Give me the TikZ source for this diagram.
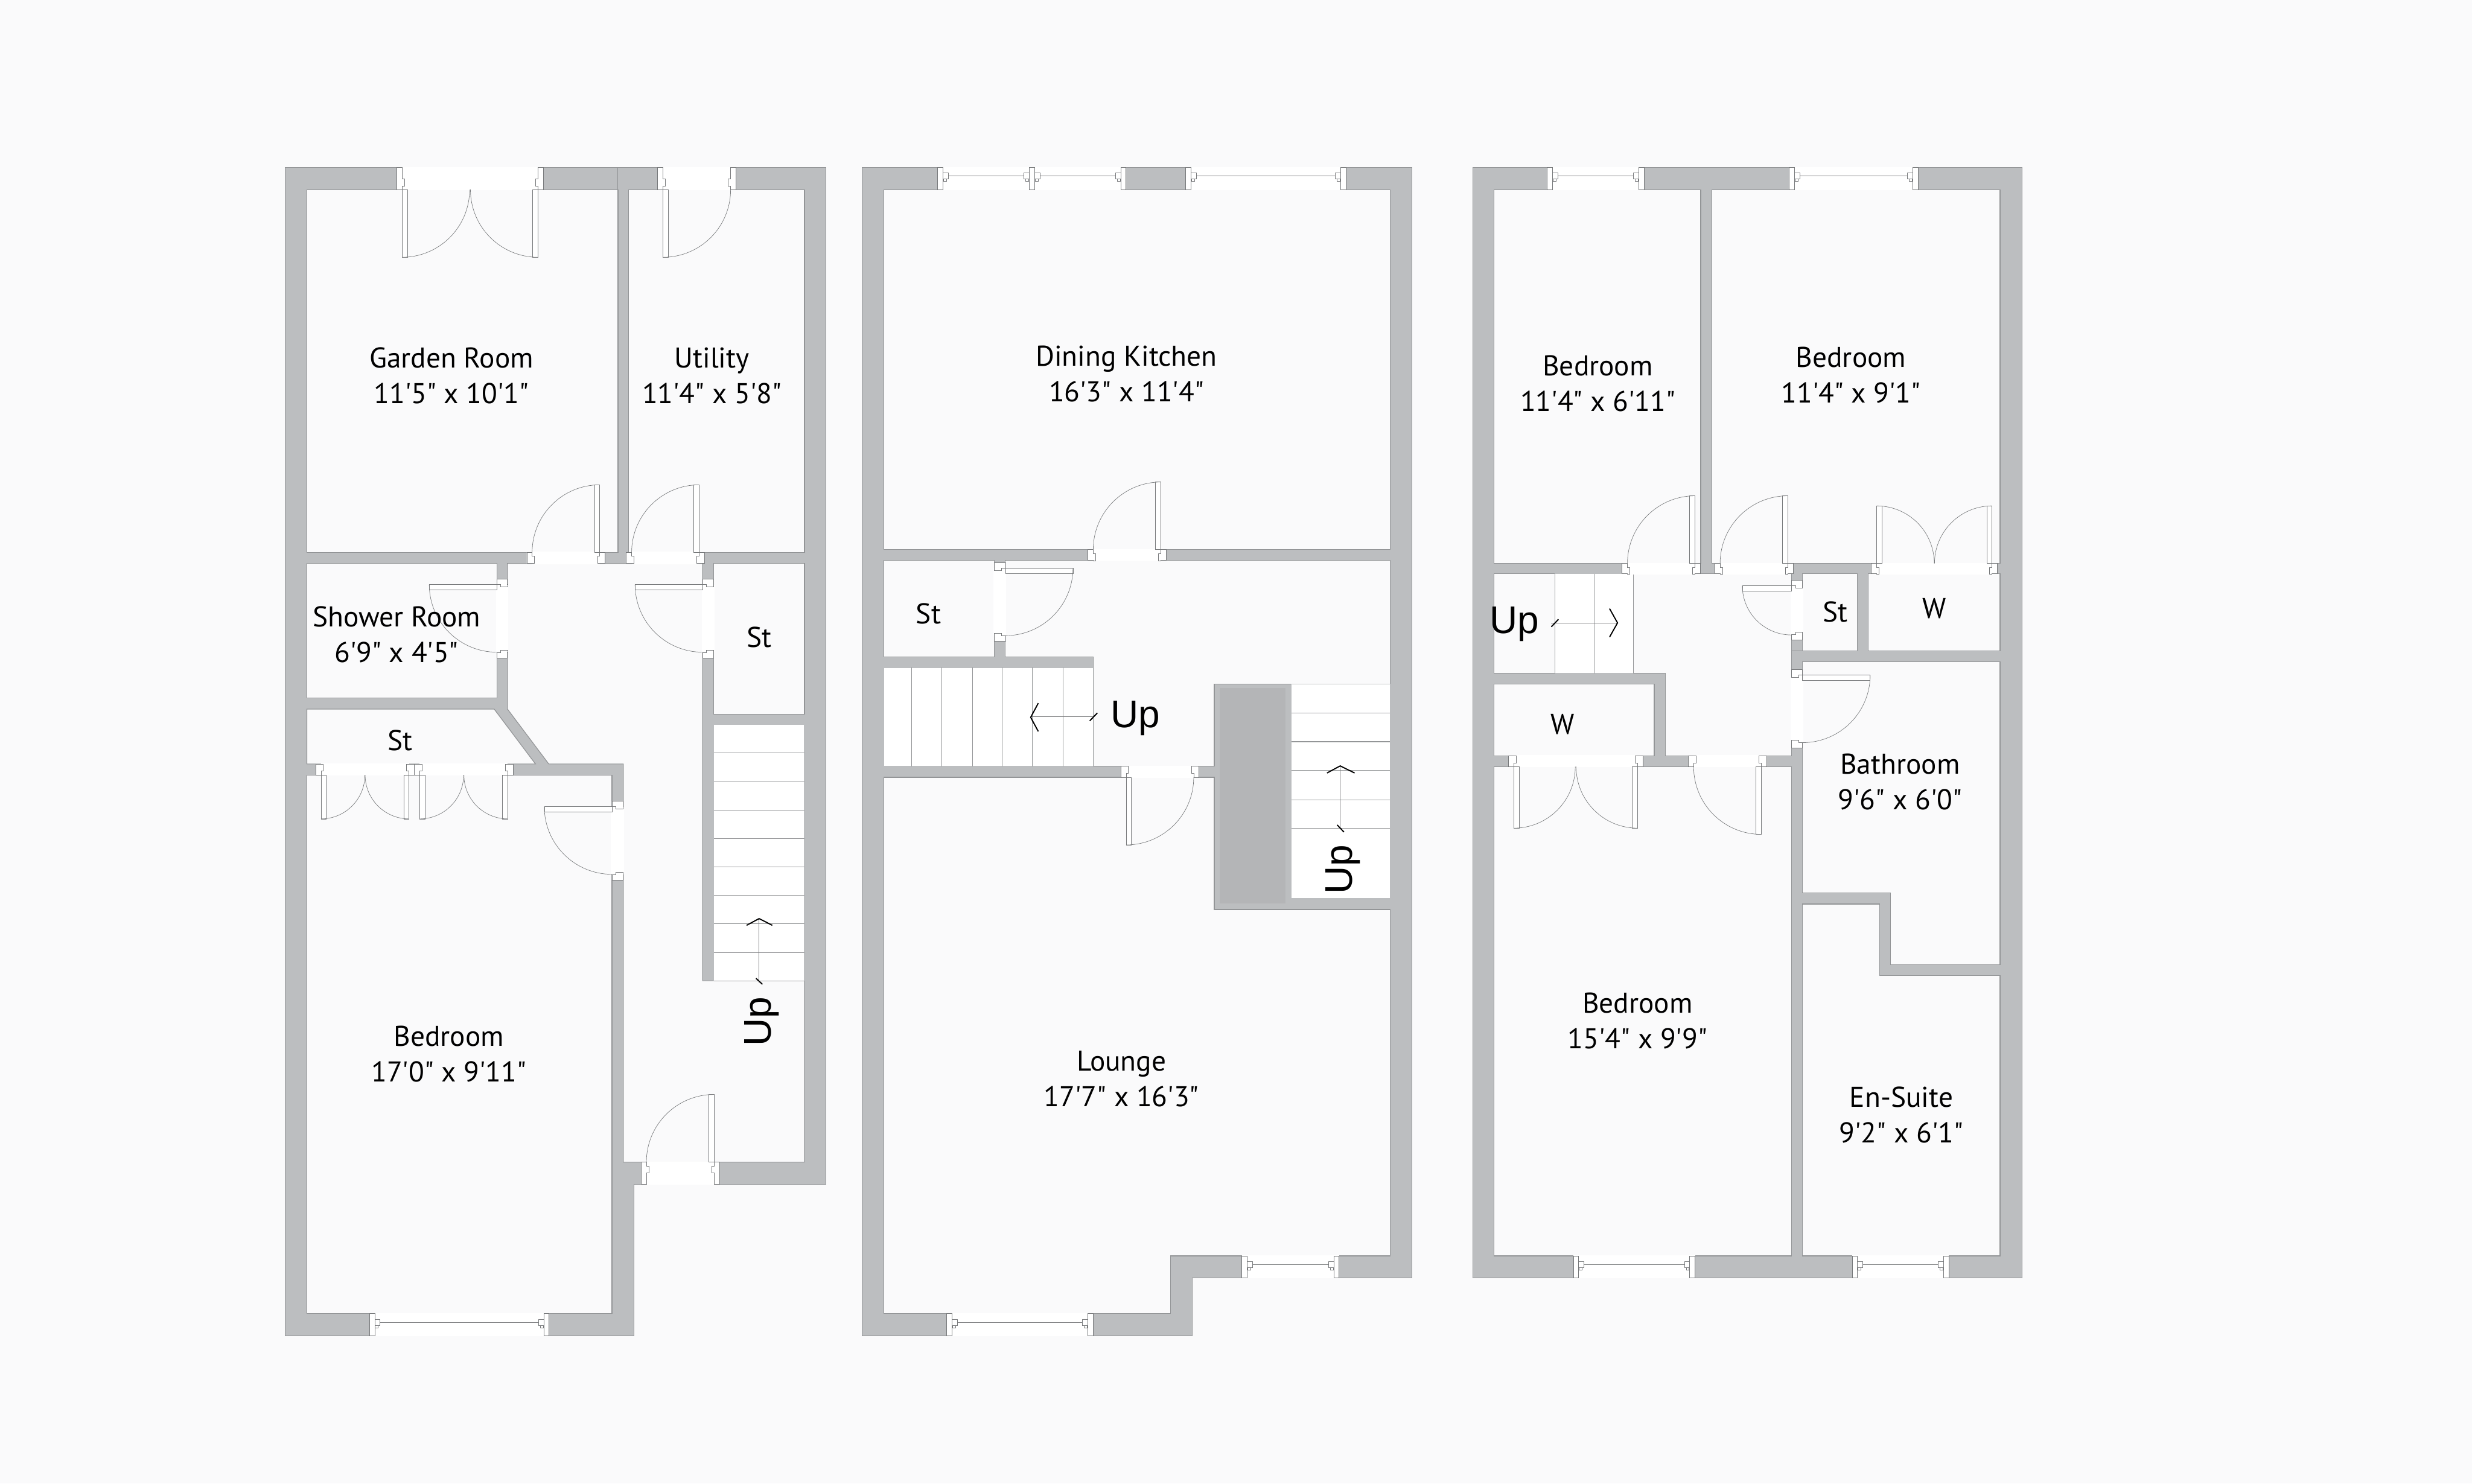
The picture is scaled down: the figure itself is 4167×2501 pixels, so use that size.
\documentclass[tikz,border=0pt]{standalone}
\usepackage{fontspec}
\newfontfamily\lab{PT Sans}
\newfontfamily\uplab{Liberation Sans}
\definecolor{bgc}{HTML}{FAFAFB}
\definecolor{wallc}{HTML}{BCBEC0}
\definecolor{edgec}{HTML}{939597}
\definecolor{linec}{HTML}{77797B}
\definecolor{darkc}{HTML}{B4B5B7}
\tikzset{
 wall/.style={fill=wallc,draw=edgec,line width=0.3pt},
 room/.style={fill=bgc,draw=edgec,line width=0.35pt},
 stairc/.style={fill=white,draw=wallc,line width=0.3pt},
 tread/.style={draw=edgec,line width=0.3pt},
 part/.style={fill=white,draw=linec,line width=0.2pt},
 swing/.style={draw=linec,line width=0.2pt},
 hole/.style={fill=white},
 arrowline/.style={draw=linec,line width=0.25pt},
 chev/.style={draw=black,line width=0.55pt},
 lab/.style={font=\lab\fontsize{13.7}{17.1}\selectfont,align=center,inner sep=0pt,text=black},
 up/.style={font=\uplab\fontsize{18.5}{20}\selectfont,inner sep=0pt,text=black}
}
% quarter circle: centre (#1,#2), sign x #3, sign y #4, radius #5
\newcommand\qarc[5]{\draw[swing] ({#1+(#3)*#5},{#2}) .. controls ({#1+(#3)*#5},{#2+(#4)*#5*0.5523}) and ({#1+(#3)*#5*0.5523},{#2+(#4)*#5}) .. ({#1},{#2+(#4)*#5});}
% jambs: x,y,sx,sy,D
\newcommand\hjamb[5]{\filldraw[part] ({#1},{#2}) -- ({#1+(#3)*9},{#2}) -- ({#1+(#3)*9},{#2+(#4)*6.5}) -- ({#1+(#3)*13},{#2+(#4)*6.5}) -- ({#1+(#3)*13},{#2+(#4)*18.5}) -- ({#1+(#3)*9},{#2+(#4)*18.5}) -- ({#1+(#3)*9},{#2+(#4)*#5}) -- ({#1},{#2+(#4)*#5}) -- cycle;}
\newcommand\vjamb[5]{\filldraw[part] ({#1},{#2}) -- ({#1},{#2+(#4)*9}) -- ({#1+(#3)*6.5},{#2+(#4)*9}) -- ({#1+(#3)*6.5},{#2+(#4)*13}) -- ({#1+(#3)*18.5},{#2+(#4)*13}) -- ({#1+(#3)*18.5},{#2+(#4)*9}) -- ({#1+(#3)*#5},{#2+(#4)*9}) -- ({#1+(#3)*#5},{#2}) -- cycle;}
% leaf with hinge jamb: xj,y,sx,sy,D,r
\newcommand\hleaf[6]{\hjamb{#1}{#2}{#3}{#4}{#5}
 \filldraw[part] ({#1+(#3)*9},{#2}) rectangle ({#1+(#3)*18},{#2-(#4)*#6});
 \qarc{#1+(#3)*9}{#2}{#3}{-(#4)}{#6}}
\newcommand\vleaf[6]{\vjamb{#1}{#2}{#3}{#4}{#5}
 \filldraw[part] ({#1},{#2+(#4)*9}) rectangle ({#1-(#3)*#6},{#2+(#4)*18});
 \qarc{#1}{#2+(#4)*9}{-(#3)}{#4}{#6}}
% single door in a horizontal / vertical wall: xj,y,sx,sy,D
\newcommand\hdoor[5]{\fill[hole] ({#1+(#3)*9},{#2-(#4)*1}) rectangle ({#1+(#3)*123},{#2+(#4)*(#5+1)});
 \hleaf{#1}{#2}{#3}{#4}{#5}{114}
 \hjamb{#1+(#3)*132}{#2}{-(#3)}{#4}{#5}}
% vertical door: x,yj,sx,sy,D,span,r
\newcommand\vdoorx[7]{\fill[hole] ({#1-(#3)*1.5},{#2+(#4)*9}) rectangle ({#1+(#3)*(#5+1.5)},{#2+(#4)*(#6-9)});
 \vleaf{#1}{#2}{#3}{#4}{#5}{#7}
 \vjamb{#1}{#2+(#4)*#6}{#3}{-(#4)}{#5}}
% double door: xa,xb,y,sy,D,r
\newcommand\hdouble[6]{\fill[hole] ({#1+9},{#3-(#4)*1}) rectangle ({#2-9},{#3+(#4)*(#5+1)});
 \hleaf{#1}{#3}{1}{#4}{#5}{#6}
 \hleaf{#2}{#3}{-1}{#4}{#5}{#6}}
% window: xa,xb,y1,y2,yline
\newcommand\hwin[5]{\fill[hole] (#1,{#3-1}) rectangle (#2,{#4+1});
 \draw[swing] ({#1+18},#5) -- ({#2-18},#5);
 \filldraw[part] (#1,#3) rectangle ({#1+9},#4);
 \filldraw[part] (#2,#3) rectangle ({#2-9},#4);
 \filldraw[part] ({#1+9},{#5-5}) rectangle ({#1+18},{#5+5});
 \filldraw[part] ({#2-9},{#5-5}) rectangle ({#2-18},{#5+5});
 \filldraw[part] ({#1+10},{#5+5}) rectangle ({#1+15},{#5+9});
 \filldraw[part] ({#2-10},{#5+5}) rectangle ({#2-15},{#5+9});}
\begin{document}
\begin{tikzpicture}[x=0.01cm,y=-0.01cm]
\path[use as bounding box,fill=bgc] (0,0) rectangle (4167,2501);
%%%%%%%%%%%%%%%% GROUND FLOOR
\path[wall] (480.4,282.6) -- (1392.5,282.6) -- (1392.5,1996.2) -- (1068.4,1996.2) -- (1068.4,2251.5) -- (480.4,2251.5) -- cycle;
\path[room] (517.4,319.7) rectangle (1041.7,931.3);
\path[room] (1059.5,319.7) rectangle (1356.1,931.3);
\path[room] (517.4,949.8) rectangle (837.6,1176.7);
\path[room] (517.4,1195.3) -- (833,1195.3) -- (902.6,1287.8) -- (517.4,1287.8) -- cycle;
\path[room] (1203,949.8) rectangle (1356.1,1203.9);
\path[room] (517.4,1306.4) rectangle (1031.5,2214.4);
\path[room] (855.4,949.8) -- (1184.5,949.8) -- (1184.5,1653.3) -- (1356.1,1653.3) -- (1356.1,1959) -- (1050.6,1959) -- (1050.6,1287.8) -- (925,1287.8) -- (855.4,1195.3) -- cycle;
\path[stairc] (1203,1221.1) rectangle (1356.1,1653.3);
\foreach \yy in {1268.9,1317.7,1365.4,1413.2,1461.6,1509.3,1557.1,1605.5,1653.3}
  \draw[tread] (1203,\yy) -- (1356.1,\yy);
\draw[tread] (1041.7,282.6) -- (1041.7,319.7);
\draw[arrowline] (1279.6,1549) -- (1279.6,1656);
\draw[chev] (1258.5,1559.8) -- (1279.6,1548.5) -- (1301.9,1559.8);
\draw[chev] (1274.4,1649.3) -- (1285.2,1659.2);
\hdouble{668.6}{916}{319.7}{-1}{37.1}{114}
\fill[hole] (1117.6,281.6) rectangle (1231.7,320.7);
\hleaf{1108.6}{319.7}{1}{-1}{37.1}{114}
\hjamb{1240.7}{319.7}{-1}{-1}{37.1}
\hdoor{1020}{931.3}{-1}{1}{18.5}
\hdoor{1187.7}{931.3}{-1}{1}{18.5}
\vdoorx{837.6}{976.4}{1}{1}{17.8}{132.6}{114}
\vdoorx{1184.5}{976.4}{1}{1}{18.5}{132.6}{114}
\hdouble{532.1}{698.5}{1306.4}{-1}{18.6}{74}
\hdouble{698.5}{865}{1306.4}{-1}{18.6}{74}
\vdoorx{1031.5}{1350.8}{1}{1}{19.1}{132.7}{114}
\hdoor{1212.6}{1959}{-1}{1}{37.2}
\hwin{622.6}{925.6}{2214.4}{2251.5}{2229}
\node[lab] (garden) at (761,633) {Garden Room\\11'5" x 10'1"};
\node[lab] (utility) at (1200,633) {Utility\\11'4" x 5'8"};
\node[lab] (shower) at (668.6,1070) {Shower Room\\6'9" x 4'5"};
\node[lab] (stA) at (1279.6,1074.5) {St};
\node[lab] (stB) at (674.9,1248.3) {St};
\node[lab] (bedA) at (756.6,1777) {Bedroom\\17'0" x 9'11"};
\node[up,rotate=90] (upA) at (1284,1722) {Up};
%%%%%%%%%%%%%%%% FIRST FLOOR
\path[wall] (1453.6,282.6) -- (2380.3,282.6) -- (2380.3,2154) -- (2009.8,2154) -- (2009.8,2251.5) -- (1453.6,2251.5) -- cycle;
\path[room] (1490,319.7) rectangle (2343.3,926.6);
\path[room] (1490,944.5) rectangle (1676.2,1107.7);
\path[room] (1694.7,944.5) -- (2343.3,944.5) -- (2343.3,1153.5) -- (2046.8,1153.5) -- (2046.8,1291.8) -- (1842.7,1291.8) -- (1842.7,1107.7) -- (1694.7,1107.7) -- cycle;
\path[room] (1490,1310.3) -- (2046.8,1310.3) -- (2046.8,1533.2) -- (2343.3,1533.2) -- (2343.3,2117) -- (1973.4,2117) -- (1973.4,2214.4) -- (1490,2214.4) -- cycle;
\path[stairc] (1490,1125.6) rectangle (1842.7,1291.8);
\foreach \xx in {1536.5,1587.5,1639.2,1689.6,1740.6,1791.6,1842.7}
  \draw[tread] (\xx,1125.6) -- (\xx,1291.8);
\path[fill=darkc] (2056.3,1160.1) rectangle (2167.3,1523.3);
\path[stairc] (2176.9,1153.5) rectangle (2343.3,1514.6);
\foreach \yy in {1201.9,1250.3,1299.1,1348.2,1395.9}
  \draw[tread] (2176.9,\yy) -- (2343.3,\yy);
\draw[arrowline] (1737.4,1208.5) -- (1844.6,1208.5);
\draw[chev] (1750.2,1185.3) -- (1737.4,1209.2) -- (1750.2,1233);
\draw[chev] (1836.9,1215.2) -- (1849.7,1201.9);
\draw[arrowline] (2259.1,1291.1) -- (2259.1,1397.2);
\draw[chev] (2236.8,1303.1) -- (2259.1,1291.1) -- (2283.4,1303.1);
\draw[chev] (2254,1390.6) -- (2265.5,1402.6);
\hwin{1580.5}{1743.8}{282.6}{319.7}{296.5}
\hwin{1734.9}{1898.1}{282.6}{319.7}{296.5}
\hwin{1998.3}{2268.7}{282.6}{319.7}{296.5}
\hdoor{1965.8}{926.6}{-1}{1}{17.9}
\vdoorx{1694.7}{948.5}{-1}{1}{18.5}{132.1}{114}
\hdoor{1889.2}{1310.3}{1}{-1}{18.5}
\hwin{1595.8}{1842.7}{2214.4}{2251.5}{2229}
\hwin{2093.3}{2257.2}{2117}{2154}{2132}
\node[lab] (dining) at (1898.8,630) {Dining Kitchen\\16'3" x 11'4"};
\node[lab] (stC) at (1565.2,1034.7) {St};
\node[lab] (lounge) at (1890.5,1818.8) {Lounge\\17'7" x 16'3"};
\node[up] (upB) at (1913.5,1211) {Up};
\node[up,rotate=90] (upC) at (2264,1465.6) {Up};
%%%%%%%%%%%%%%%% SECOND FLOOR
\path[wall] (2482.3,282.6) rectangle (3408.4,2154);
\path[room] (2518.7,319.7) rectangle (2866.9,949.8);
\path[room] (2885.4,319.7) rectangle (3371.4,949.8);
\path[room] (2518.7,967.1) -- (3020,967.1) -- (3020,1273.9) -- (2807,1273.9) -- (2807,1134.9) -- (2518.7,1134.9) -- cycle;
\path[stairc] (2621.4,967.1) rectangle (2753.4,1134.9);
\draw[tread] (2621.4,967.1) -- (2621.4,1134.9);
\draw[tread] (2687.7,967.1) -- (2687.7,1134.9);
\draw[tread] (2753.4,967.1) -- (2753.4,1134.9);
\path[room] (2518.7,1153.5) rectangle (2788.5,1274.2);
\path[room] (3038.5,967.1) rectangle (3131,1097.1);
\path[room] (3149.5,967.1) rectangle (3371.4,1097.1);
\path[room] (3038.5,1115.7) -- (3371.4,1115.7) -- (3371.4,1626.1) -- (3187.1,1626.1) -- (3187.1,1505.4) -- (3038.5,1505.4) -- cycle;
\path[room] (3038.5,1523.9) -- (3168.6,1523.9) -- (3168.6,1644.7) -- (3371.4,1644.7) -- (3371.4,2117) -- (3038.5,2117) -- cycle;
\path[room] (2518.7,1292.5) rectangle (3020,2117);
\draw[arrowline] (2615,1050) -- (2726.6,1050);
\draw[chev] (2713.2,1026) -- (2726.6,1050) -- (2713.2,1073.9);
\draw[chev] (2615,1056.6) -- (2627,1044);
\draw[tread] (3020,1097.1) -- (3038.5,1097.1);
\hwin{2608}{2771.2}{282.6}{319.7}{296.5}
\hwin{3015.5}{3233}{282.6}{319.7}{296.5}
\hdoor{2866.3}{949.8}{-1}{1}{17.3}
\hdoor{3022.5}{949.8}{-1}{1}{17.3}
\hdouble{3154.5}{3366.9}{949.8}{1}{17.3}{97}
\vdoorx{3020}{978.4}{1}{1}{18.5}{100.1}{83}
\vdoorx{3038.5}{1128.9}{-1}{1}{18.5}{132}{114}
\hdouble{2542.9}{2769.3}{1292.5}{-1}{18.6}{103.5}
\hdoor{2977.9}{1292.5}{-1}{-1}{18.6}
\hwin{2652}{2857.3}{2117}{2154}{2132}
\hwin{3122}{3285.3}{2117}{2154}{2132}
\node[lab] (bedB) at (2693.4,646.4) {Bedroom\\11'4" x 6'11"};
\node[lab] (bedC) at (3120.1,632.4) {Bedroom\\11'4" x 9'1"};
\node[lab] (stD) at (3094,1031.4) {St};
\node[lab] (wA) at (3260.4,1026) {W};
\node[lab] (wB) at (2634.1,1220.5) {W};
\node[lab] (bath) at (3203,1318.3) {Bathroom\\9'6" x 6'0"};
\node[lab] (bedD) at (2760.4,1721) {Bedroom\\15'4" x 9'9"};
\node[lab] (ensuite) at (3205,1879.5) {En-Suite\\9'2" x 6'1"};
\node[up] (upD) at (2552.5,1052) {Up};
\end{tikzpicture}
\end{document}
